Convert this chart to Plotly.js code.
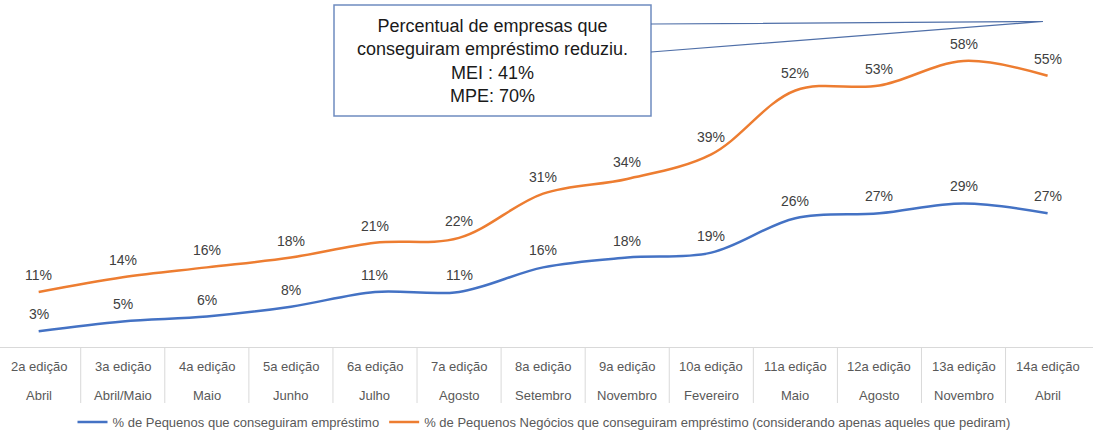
<!DOCTYPE html>
<html>
<head>
<meta charset="utf-8">
<script src="https://cdn.plot.ly/plotly-3.0.1.min.js"></script>
<style>html,body{margin:0;padding:0;background:#fff;}#chart{width:1097px;height:430px;}</style>
</head>
<body>
<div id="chart"></div>
<script>
const editions = ["2a edição","3a edição","4a edição","5a edição","6a edição","7a edição","8a edição","9a edição","10a edição","11a edição","12a edição","13a edição","14a edição"];
const months = ["Abril","Abril/Maio","Maio","Junho","Julho","Agosto","Setembro","Novembro","Fevereiro","Maio","Agosto","Novembro","Abril"];
const seriesBlue = [3,5,6,8,11,11,16,18,19,26,27,29,27];
const seriesOrange = [11,14,16,18,21,22,31,34,39,52,53,58,55];
const nameBlue = "% de Pequenos que conseguiram empréstimo";
const nameOrange = "% de Pequenos Negócios que conseguiram empréstimo (considerando apenas aqueles que pediram)";
const calloutLines = ["Percentual de empresas que","conseguiram empréstimo reduziu.","MEI : 41%","MPE: 70%"];

const W = 1097, H = 430;
const M = {l:0, r:4, t:2, b:84, autoexpand: false};
const PW = W - M.l - M.r, PH = H - M.t - M.b;
const px = x => (x - M.l) / PW;
const py = y => (H - M.b - y) / PH;

const xs = editions.map((_, i) => i);
const font = "'Liberation Sans', Arial, sans-serif";
const BLUE = "#4472C4", ORANGE = "#ED7D31";

const traces = [
  {x: xs, y: seriesBlue, name: nameBlue, type: "scatter", mode: "lines",
   line: {color: BLUE, width: 2.5, shape: "spline", smoothing: 1}, hoverinfo: "skip"},
  {x: xs, y: seriesOrange, name: nameOrange, type: "scatter", mode: "lines",
   line: {color: ORANGE, width: 2.5, shape: "spline", smoothing: 1}, hoverinfo: "skip"}
];

const annotations = [];
[seriesBlue, seriesOrange].forEach(s => {
  s.forEach((v, i) => annotations.push({x: i, y: v, xref: "x", yref: "y", text: v + "%",
    showarrow: false, yanchor: "middle", yshift: 17, font: {family: font, size: 14, color: "#404040"}}));
});
editions.forEach((e, i) => {
  annotations.push({x: i, y: py(367), xref: "x", yref: "paper", text: e, showarrow: false,
    yanchor: "middle", font: {family: font, size: 13, color: "#595959"}});
  annotations.push({x: i, y: py(395), xref: "x", yref: "paper", text: months[i], showarrow: false,
    yanchor: "middle", font: {family: font, size: 13, color: "#595959"}});
});
annotations.push({x: px(492.5), y: py(61), xref: "paper", yref: "paper", text: calloutLines.join("<br>"),
  showarrow: false, xanchor: "center", yanchor: "middle", align: "center",
  font: {family: font, size: 18, color: "#1a1a1a"}});

const shapes = [
  {type: "line", xref: "paper", yref: "paper", x0: 0, x1: 1, y0: py(347.5), y1: py(347.5),
   line: {color: "#D9D9D9", width: 1}}
];
for (let i = 0; i < editions.length - 1; i++) {
  shapes.push({type: "line", xref: "x", yref: "paper", x0: i + 0.5, x1: i + 0.5, y0: py(347.5), y1: py(403),
    line: {color: "#D9D9D9", width: 1}});
}
shapes.push({type: "rect", xref: "paper", yref: "paper", x0: px(334), x1: px(651), y0: py(116), y1: py(5),
  line: {color: "#6F8CC0", width: 1.5}, fillcolor: "rgba(255,255,255,0)"});
shapes.push({type: "path", xref: "paper", yref: "paper",
  path: `M ${px(651)} ${py(24)} L ${px(1043)} ${py(21.5)} L ${px(651)} ${py(52)}`,
  line: {color: "#4F6FA8", width: 1.2}});

const layout = {
  width: W, height: H, margin: M,
  paper_bgcolor: "#fff", plot_bgcolor: "#fff",
  xaxis: {range: [-0.46, 12.54], showgrid: false, zeroline: false, showticklabels: false, showline: false, ticks: "", automargin: false},
  yaxis: {range: [0, 70], visible: false, automargin: false},
  showlegend: true,
  legend: {orientation: "h", x: px(544), xanchor: "center", y: py(422), yanchor: "middle",
    font: {family: font, size: 13, color: "#595959"}, itemwidth: 30, traceorder: "normal", bgcolor: "rgba(0,0,0,0)"},
  annotations: annotations, shapes: shapes
};

Plotly.newPlot("chart", traces, layout, {displayModeBar: false, staticPlot: true});
</script>
</body>
</html>
